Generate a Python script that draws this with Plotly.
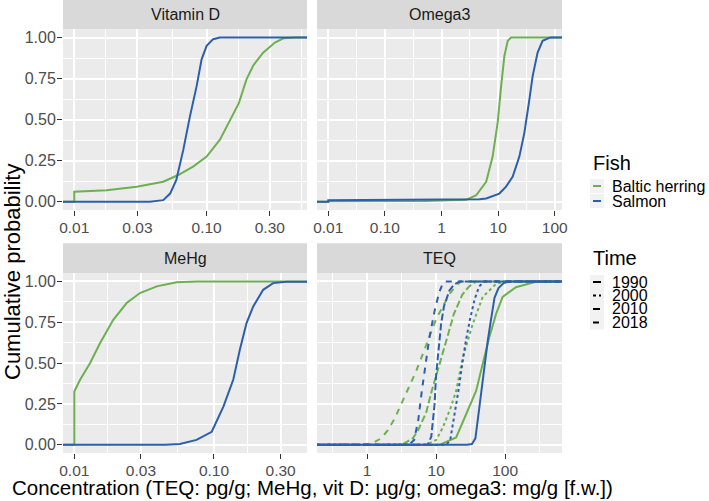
import math
import plotly.graph_objects as go

# ---------------- data ----------------
# empirical cumulative distributions, (concentration, cumulative probability)

# Vitamin D (ug/g)
vitd_herring_x = [0.01, 0.01, 0.0176, 0.0296, 0.047, 0.061, 0.079, 0.1, 0.126, 0.151, 0.175, 0.2, 0.225, 0.267, 0.328, 0.38, 0.47]
vitd_herring_p = [0, 0.061, 0.07, 0.092, 0.122, 0.163, 0.214, 0.275, 0.378, 0.5, 0.6, 0.745, 0.83, 0.908, 0.969, 0.995, 1]
vitd_salmon_x = [0.0373, 0.047, 0.053, 0.059, 0.0666, 0.0748, 0.084, 0.0916, 0.1, 0.112, 0.126]
vitd_salmon_p = [0, 0.01, 0.05, 0.133, 0.316, 0.52, 0.704, 0.867, 0.949, 0.99, 1]

# Omega3 (mg/g)
omega_herring_x = [0.01, 0.01, 0.5, 2.73, 4.1, 6.15, 8.0, 9.8, 11.3, 12.9, 14.8, 16.9]
omega_herring_p = [0, 0.004, 0.005, 0.012, 0.04, 0.122, 0.275, 0.48, 0.704, 0.888, 0.98, 1]
omega_salmon_x = [0.01, 0.01, 1, 3, 4.7, 6.15, 10.5, 13.8, 18.1, 23.7, 29, 35.6, 40.7, 49.8, 61, 80, 86]
omega_salmon_p = [0, 0.01, 0.012, 0.014, 0.016, 0.02, 0.05, 0.092, 0.153, 0.275, 0.418, 0.622, 0.765, 0.908, 0.98, 0.998, 1]

# MeHg (ug/g)
mehg_herring_x = [0.01, 0.01, 0.011, 0.01295, 0.0153, 0.019, 0.0237, 0.0295, 0.0389, 0.054, 0.075]
mehg_herring_p = [0, 0.326, 0.398, 0.5, 0.623, 0.765, 0.868, 0.929, 0.97, 0.995, 1]
mehg_salmon_x = [0.045, 0.057, 0.075, 0.0964, 0.117, 0.1375, 0.153, 0.171, 0.191, 0.225, 0.265, 0.331, 0.39]
mehg_salmon_p = [0, 0.005, 0.03, 0.08, 0.235, 0.4, 0.58, 0.745, 0.847, 0.949, 0.99, 0.998, 1]

# TEQ (pg/g), by year
teq_herring_x = {
    "1990": [11.2, 19.5, 27.2, 37.9, 47.2, 59, 73.6, 91.8, 143, 223, 278, 460],
    "2000": [7.2, 10, 12.5, 16, 19.5, 24.3, 33.9, 47.2, 73.6, 102],
    "2010": [2.8, 3.5, 4.6, 5.5, 7.2, 8.5, 10.5, 12.5, 15, 18, 24, 30, 38],
    "2018": [0.27, 0.9, 1.2, 1.6, 2.0, 2.5, 3.2, 4.2, 5.0, 6.2, 7.6, 10, 13, 15.5, 19, 23],
}
teq_herring_p = {
    "1990": [0, 0.045, 0.19, 0.33, 0.495, 0.66, 0.8, 0.905, 0.965, 0.99, 0.998, 1],
    "2000": [0, 0.03, 0.106, 0.22, 0.33, 0.535, 0.74, 0.905, 0.985, 1],
    "2010": [0, 0.01, 0.04, 0.09, 0.2, 0.32, 0.45, 0.57, 0.68, 0.8, 0.92, 0.97, 1],
    "2018": [0, 0.002, 0.01, 0.04, 0.09, 0.16, 0.26, 0.37, 0.44, 0.54, 0.64, 0.77, 0.86, 0.92, 0.97, 1],
}
teq_salmon_x = {
    "1990": [28, 33, 37, 40, 44, 50, 56, 62, 70, 80, 95, 115],
    "2000": [14, 16, 18, 21, 24, 27, 31, 36, 42, 50],
    "2010": [7.5, 8.5, 9.5, 10, 11, 11.8, 13, 15.6, 18, 22],
    "2018": [4, 4.8, 5.5, 6.2, 7, 8, 9.5, 11, 12.5, 13.5],
}
teq_salmon_p = {
    "1990": [0, 0.005, 0.04, 0.15, 0.3, 0.48, 0.64, 0.76, 0.9, 0.96, 0.99, 1],
    "2000": [0, 0.03, 0.15, 0.33, 0.5, 0.64, 0.77, 0.89, 0.97, 1],
    "2010": [0, 0.05, 0.25, 0.43, 0.6, 0.74, 0.85, 0.945, 0.98, 1],
    "2018": [0, 0.03, 0.15, 0.33, 0.5, 0.66, 0.82, 0.93, 0.99, 1],
}

fish_names = ["Baltic herring", "Salmon"]
years = ["1990", "2000", "2010", "2018"]

small_ticks = [0.01, 0.03, 0.1, 0.3]
small_labels = ["0.01", "0.03", "0.10", "0.30"]
omega_ticks = [0.01, 0.1, 1, 10, 100]
omega_labels = ["0.01", "0.10", "1", "10", "100"]
teq_ticks = [1, 10, 100]
teq_labels = ["1", "10", "100"]
prob_ticks = [0, 0.25, 0.5, 0.75, 1]
prob_labels = ["0.00", "0.25", "0.50", "0.75", "1.00"]

x_title = "Concentration (TEQ: pg/g; MeHg, vit D: µg/g; omega3: mg/g [f.w.])"
y_title = "Cumulative probability"

# ---------------- styling ----------------
GREEN = "#6CB050"
BLUE = "#2B5FAC"
FONT = "Liberation Sans, Arial, sans-serif"
DASHES = {"1990": "solid", "2000": "3px,3px", "2010": "7px,3px", "2018": "6px,6px"}

W, H = 709, 501
L, R, T, B = 63, 562, 0, 453  # plotting region in pixels


def px_x(x):
    return (x - L) / (R - L)


def px_y(y):
    return (B - y) / (B - T)


def minor_log(ticks, rng):
    # midpoints in log space, like ggplot's regular_minor_breaks
    b = [math.log10(t) for t in ticks]
    bd = b[1] - b[0]
    if rng[0] < b[0]:
        b = [b[0] - bd] + b
    if rng[1] > b[-1]:
        b = b + [b[-1] + bd]
    mids = [(b[i] + b[i + 1]) / 2 for i in range(len(b) - 1)]
    return [10 ** m for m in mids if rng[0] < m < rng[1]]


# panel definitions: name, axis suffix, x px span, y px span, log range, ticks
panels = [
    ("Vitamin D", "", (63, 307), (29.3, 210), [-2.085, -0.242], small_ticks, small_labels, True),
    ("Omega3", "2", (317, 562), (29.3, 210), [-2.199, 2.128], omega_ticks, omega_labels, False),
    ("MeHg", "3", (63, 307), (273.3, 453), [-2.081, -0.334], small_ticks, small_labels, True),
    ("TEQ", "4", (317, 562), (273.3, 453), [-0.726, 2.823], teq_ticks, teq_labels, False),
]

fig = go.Figure()


def add_ecdf(x, p, color, dash, suffix, rng):
    # pad to the panel edges like stat_ecdf(pad = TRUE)
    xs = [10 ** (rng[0] - 0.2)] + list(x) + [10 ** (rng[1] + 0.2)]
    ps = [0] + list(p) + [1]
    fig.add_trace(
        go.Scatter(
            x=xs,
            y=ps,
            mode="lines",
            line=dict(color=color, width=2, dash=dash),
            xaxis="x" + suffix,
            yaxis="y" + suffix,
            showlegend=False,
            hoverinfo="skip",
        )
    )


add_ecdf(vitd_herring_x, vitd_herring_p, GREEN, "solid", "", panels[0][4])
add_ecdf(vitd_salmon_x, vitd_salmon_p, BLUE, "solid", "", panels[0][4])
add_ecdf(omega_herring_x, omega_herring_p, GREEN, "solid", "2", panels[1][4])
add_ecdf(omega_salmon_x, omega_salmon_p, BLUE, "solid", "2", panels[1][4])
add_ecdf(mehg_herring_x, mehg_herring_p, GREEN, "solid", "3", panels[2][4])
add_ecdf(mehg_salmon_x, mehg_salmon_p, BLUE, "solid", "3", panels[2][4])
for yr in years:
    add_ecdf(teq_herring_x[yr], teq_herring_p[yr], GREEN, DASHES[yr], "4", panels[3][4])
for yr in years:
    add_ecdf(teq_salmon_x[yr], teq_salmon_p[yr], BLUE, DASHES[yr], "4", panels[3][4])

shapes = []
annotations = []
layout_axes = {}

for name, suf, (x0, x1), (y0, y1), rng, ticks, labels, left in panels:
    layout_axes["xaxis" + suf] = dict(
        type="log",
        domain=[px_x(x0), px_x(x1)],
        range=rng,
        anchor="y" + suf,
        tickvals=ticks,
        ticktext=labels,
        ticks="outside",
        ticklen=5,
        tickwidth=1.2,
        tickcolor="#333333",
        ticklabelstandoff=-2,
        tickfont=dict(family=FONT, size=15.5, color="#4D4D4D"),
        showgrid=True,
        gridcolor="white",
        gridwidth=2,
        zeroline=False,
        showline=False,
        minor=dict(tickvals=minor_log(ticks, rng), showgrid=True, gridcolor="white", gridwidth=1, ticks=""),
        fixedrange=True,
    )
    layout_axes["yaxis" + suf] = dict(
        domain=[px_y(y1), px_y(y0)],
        range=[-0.05, 1.05],
        anchor="x" + suf,
        tickvals=prob_ticks,
        ticktext=prob_labels,
        showticklabels=left,
        ticks="outside" if left else "",
        ticklen=5,
        tickwidth=1.2,
        tickcolor="#333333",
        ticklabelstandoff=-2,
        tickfont=dict(family=FONT, size=16, color="#4D4D4D"),
        showgrid=True,
        gridcolor="white",
        gridwidth=2,
        zeroline=False,
        showline=False,
        minor=dict(tickvals=[0.125, 0.375, 0.625, 0.875], showgrid=True, gridcolor="white", gridwidth=1, ticks=""),
        fixedrange=True,
    )
    # panel background
    shapes.append(dict(type="rect", xref="paper", yref="paper", x0=px_x(x0), x1=px_x(x1),
                       y0=px_y(y1), y1=px_y(y0), fillcolor="#EBEBEB", line=dict(width=0), layer="below"))
    # strip
    s0 = max(y0 - 30, 0)
    shapes.append(dict(type="rect", xref="paper", yref="paper", x0=px_x(x0), x1=px_x(x1),
                       y0=px_y(y0), y1=px_y(s0), fillcolor="#D9D9D9", line=dict(width=0), layer="below"))
    annotations.append(dict(text=name, xref="paper", yref="paper", x=px_x((x0 + x1) / 2),
                            y=px_y((s0 + y0) / 2), showarrow=False, xanchor="center", yanchor="middle",
                            font=dict(family=FONT, size=16, color="#1A1A1A")))

# axis titles
annotations.append(dict(text=x_title, xref="paper", yref="paper", x=px_x(312), y=px_y(487),
                        showarrow=False, xanchor="center", yanchor="middle",
                        font=dict(family=FONT, size=20.5, color="black")))
annotations.append(dict(text=y_title, xref="paper", yref="paper", x=px_x(12), y=px_y(272),
                        showarrow=False, xanchor="center", yanchor="middle", textangle=-90,
                        font=dict(family=FONT, size=22, color="black")))


# legends (drawn by hand to keep ggplot-sized keys)
def legend_block(title, title_y, rows, row_ys, colors, dashes):
    annotations.append(dict(text=title, xref="paper", yref="paper", x=px_x(591), y=px_y(title_y),
                            showarrow=False, xanchor="left", yanchor="middle",
                            font=dict(family=FONT, size=20, color="black")))
    for label, ry, col, dsh in zip(rows, row_ys, colors, dashes):
        shapes.append(dict(type="rect", xref="paper", yref="paper", x0=px_x(590), x1=px_x(604),
                           y0=px_y(ry + 7), y1=px_y(ry - 7), fillcolor="#F2F2F2", line=dict(width=0)))
        shapes.append(dict(type="line", xref="paper", yref="paper", x0=px_x(593), x1=px_x(601),
                           y0=px_y(ry), y1=px_y(ry), line=dict(color=col, width=2, dash=dsh)))
        annotations.append(dict(text=label, xref="paper", yref="paper", x=px_x(610), y=px_y(ry),
                                showarrow=False, xanchor="left", yanchor="middle",
                                font=dict(family=FONT, size=16, color="black")))


legend_block("Fish", 163, fish_names, [186, 201], [GREEN, BLUE], ["solid", "solid"])
legend_block("Time", 258, years, [282, 295.5, 309, 322.5], ["black"] * 4,
             [DASHES[y] for y in years])

fig.update_layout(
    width=W,
    height=H,
    margin=dict(l=L, r=W - R, t=T, b=H - B, autoexpand=False),
    paper_bgcolor="white",
    plot_bgcolor="rgba(0,0,0,0)",
    showlegend=False,
    shapes=shapes,
    annotations=annotations,
    font=dict(family=FONT),
    **layout_axes,
)

fig.write_html("out.html", config={"displayModeBar": False},
               post_script="document.body.style.margin='0px';")
